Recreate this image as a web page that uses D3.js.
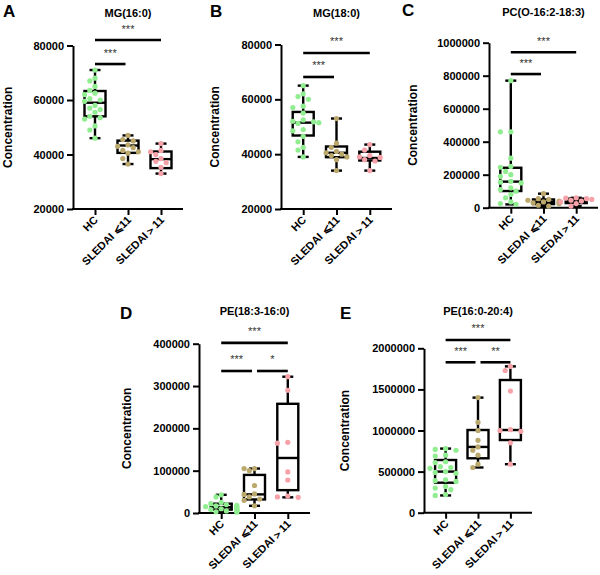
<!DOCTYPE html>
<html>
<head>
<meta charset="utf-8">
<script src="https://cdn.jsdelivr.net/npm/d3@7"></script>
<style>
  html, body { margin: 0; padding: 0; background: #fff; }
  svg { display: block; }
  text { font-family: Arial, "Liberation Sans", sans-serif; }
</style>
</head>
<body>
<svg id="chart" width="600" height="575"></svg>
<script>
// ---------------- DATA ----------------
const categories = ["HC", "SLEDAI ⩽11", "SLEDAI＞11"];
const titles = ["MG(16:0)", "MG(18:0)", "PC(O-16:2-18:3)", "PE(18:3-16:0)", "PE(16:0-20:4)"];
const panelLetters = ["A", "B", "C", "D", "E"];
const yLabel = "Concentration";

// y-axis ticks
const ticksA = [20000, 40000, 60000, 80000];
const ticksB = [20000, 40000, 60000, 80000];
const ticksC = [0, 200000, 400000, 600000, 800000, 1000000];
const ticksD = [0, 100000, 200000, 300000, 400000];
const ticksE = [0, 500000, 1000000, 1500000, 2000000];

// individual samples: HC, SLEDAI<=11, SLEDAI>11
const mg160HC = [71000, 68000, 67000, 65000, 63500, 62500, 62000, 60500, 60000, 59500, 58000, 57000, 56500, 55500, 54000, 53500, 53000, 50500, 49000, 46000];
const mg160Low = [47000, 45500, 45000, 43500, 43000, 42500, 41500, 41000, 40500, 38500, 36500];
const mg160High = [44000, 41500, 41000, 40000, 38500, 37500, 37000, 35300, 33000];

const mg180HC = [65000, 62000, 61000, 60000, 57500, 57000, 55000, 52500, 52000, 51800, 51500, 51200, 49000, 48500, 46500, 44500, 42500, 41500, 39000];
const mg180Low = [53000, 44000, 42500, 41000, 40500, 40000, 39500, 39000, 38000, 34000];
const mg180High = [43500, 41500, 39500, 39000, 38800, 38000, 37500, 34000];

const pcHC = [770000, 460000, 460000, 300000, 250000, 245000, 220000, 200000, 190000, 160000, 155000, 150000, 120000, 110000, 100000, 80000, 60000, 35000, 25000, 20000];
const pcLow = [85000, 55000, 50000, 45000, 40000, 35000, 30000, 28000, 25000, 15000, 10000];
const pcHigh = [60000, 58000, 55000, 50000, 45000, 40000, 35000, 25000, 10000];

const pe1816HC = [43000, 38000, 25000, 22000, 20000, 18000, 17000, 15000, 14000, 12000, 10000, 9000, 8000, 7000, 6000, 5000, 4000, 3000, 2000];
const pe1816Low = [105000, 105000, 100000, 65000, 45000, 44000, 38000, 33000, 30000, 17000];
const pe1816High = [322000, 290000, 167000, 165000, 97000, 78000, 40000, 38000, 37000];

const pe1620HC = [780000, 770000, 760000, 700000, 690000, 620000, 610000, 560000, 550000, 540000, 500000, 490000, 480000, 400000, 390000, 380000, 320000, 300000, 280000, 220000, 210000];
const pe1620Low = [1400000, 1100000, 1000000, 880000, 800000, 760000, 700000, 590000, 550000];
const pe1620High = [1780000, 1730000, 1480000, 1010000, 1000000, 990000, 850000, 590000];

// box stats per group: [min, q1, median, q3, max]
const mg160Box = [[46000, 54000, 59000, 63300, 71000], [36500, 40600, 43300, 45100, 47000], [33000, 35000, 38300, 41100, 44000]];
const mg180Box = [[39000, 46800, 51500, 55400, 65000], [34000, 38900, 40500, 42800, 53000], [34000, 37700, 38600, 40900, 43500]];
const pcBox = [[20000, 101000, 158000, 242000, 770000], [10000, 22000, 35000, 50000, 85000], [10000, 28000, 40000, 55000, 60000]];
const pe1816Box = [[2000, 8000, 14000, 22000, 43000], [17000, 32000, 44000, 90000, 105000], [37000, 54000, 130000, 258000, 322000]];
const pe1620Box = [[210000, 365000, 500000, 641000, 780000], [550000, 662000, 800000, 1006000, 1400000], [590000, 884000, 1006000, 1614000, 1780000]];

// significance brackets: [fromIndex, toIndex, label, level (data units)]
const mg160Sig = [[0, 2, "***", 82000], [0, 1, "***", 73200]];
const mg180Sig = [[0, 2, "***", 76900], [0, 1, "***", 68150]];
const pcSig = [[0, 2, "***", 942000], [0, 1, "***", 810000]];
const pe1816Sig = [[0, 2, "***", 402000], [0, 1, "***", 335500], [1, 2, "*", 335500]];
const pe1620Sig = [[0, 2, "***", 2101000], [0, 1, "***", 1830000], [1, 2, "**", 1830000]];

// ---------------- STYLE / LAYOUT ----------------
const groupColors = ["#90ee90", "#bba86c", "#f7a1a8"];
const layout = [
  { axisX: 73,  xEnd: 183, yTopPx: 45.5,  yBotPx: 209,   letterX: 3,   letterY: 17,  labelX: 7.5 },
  { axisX: 281, xEnd: 392, yTopPx: 44.5,  yBotPx: 209,   letterX: 210, letterY: 17,  labelX: 215 },
  { axisX: 489, xEnd: 598, yTopPx: 42.7,  yBotPx: 207.7, letterX: 402, letterY: 16,  labelX: 412.5 },
  { axisX: 199, xEnd: 310, yTopPx: 343.7, yBotPx: 513,   letterX: 120, letterY: 319, labelX: 127 },
  { axisX: 424, xEnd: 532, yTopPx: 348.3, yBotPx: 512.7, letterX: 340, letterY: 319, labelX: 345 }
];
const titleY = [17, 17, 16, 315, 315];

const panels = [
  { ticks: ticksA, groups: [mg160HC, mg160Low, mg160High], box: mg160Box, sig: mg160Sig },
  { ticks: ticksB, groups: [mg180HC, mg180Low, mg180High], box: mg180Box, sig: mg180Sig },
  { ticks: ticksC, groups: [pcHC, pcLow, pcHigh], box: pcBox, sig: pcSig },
  { ticks: ticksD, groups: [pe1816HC, pe1816Low, pe1816High], box: pe1816Box, sig: pe1816Sig },
  { ticks: ticksE, groups: [pe1620HC, pe1620Low, pe1620High], box: pe1620Box, sig: pe1620Sig }
];

const svg = d3.select("#chart");
const boxW = 21, capW = 11, ptR = 2.6, lw = 2.4;

// simple deterministic beeswarm offsets
function swarm(values, yScale, cx) {
  const placed = [];
  const sorted = values.map((v, i) => ({ v, i })).sort((a, b) => b.v - a.v);
  const step = 5.2, minD = 5.6;
  const offs = [0, -1, 1, -2, 2, -3, 3];
  sorted.forEach(d => {
    const y = yScale(d.v);
    let chosen = cx;
    for (const o of offs) {
      const xx = cx + o * step;
      chosen = xx;
      if (placed.every(p => Math.hypot(p.x - xx, p.y - y) >= minD)) break;
    }
    placed.push({ x: chosen, y, v: d.v });
  });
  return placed;
}

panels.forEach((p, k) => {
  const L = layout[k];
  const g = svg.append("g");
  const x = d3.scalePoint().domain(categories).range([L.axisX, L.xEnd]).padding(0.667);
  const y = d3.scaleLinear().domain([p.ticks[0], p.ticks[p.ticks.length - 1]]).range([L.yBotPx, L.yTopPx]);

  // y axis
  const ya = g.append("g").attr("transform", `translate(${L.axisX},0)`)
    .call(d3.axisLeft(y).tickValues(p.ticks).tickSize(6).tickSizeOuter(0).tickPadding(3).tickFormat(d3.format("d")));
  ya.selectAll("path, line").attr("stroke", "#000").attr("stroke-width", 2);
  ya.selectAll("text").attr("font-size", 11).attr("font-weight", "bold").attr("fill", "#000");

  // x axis
  const xa = g.append("g").attr("transform", `translate(0,${L.yBotPx})`)
    .call(d3.axisBottom(x).tickSize(6).tickSizeOuter(0).tickFormat(""));
  xa.selectAll("path, line").attr("stroke", "#000").attr("stroke-width", 2);
  xa.select(".domain").attr("d", `M${L.axisX - 1},0H${L.xEnd}`);

  // x labels rotated
  g.selectAll(".xl").data(categories).enter().append("text")
    .attr("transform", d => `translate(${x(d) + 1},${L.yBotPx + 9}) rotate(-45)`)
    .attr("text-anchor", "end").attr("dy", "0.35em")
    .attr("font-size", 11).attr("font-weight", "bold").attr("fill", "#000")
    .text(d => d);

  // y label
  g.append("text")
    .attr("transform", `translate(${L.labelX + 4},${(L.yTopPx + L.yBotPx) / 2}) rotate(-90)`)
    .attr("text-anchor", "middle").attr("font-size", 12).attr("font-weight", "bold")
    .text(yLabel);

  // title
  g.append("text").attr("x", (L.axisX + L.xEnd) / 2).attr("y", titleY[k])
    .attr("text-anchor", "middle").attr("font-size", 11).attr("font-weight", "bold")
    .text(titles[k]);

  // panel letter
  g.append("text").attr("x", L.letterX).attr("y", L.letterY)
    .attr("font-size", 17).attr("font-weight", "bold").text(panelLetters[k]);

  // boxes
  p.box.forEach((b, gi) => {
    const cx = x(categories[gi]);
    const [mn, q1, md, q3, mx] = b;
    const bg = g.append("g").attr("stroke", "#000").attr("stroke-width", lw).attr("fill", "none");
    bg.append("line").attr("x1", cx).attr("x2", cx).attr("y1", y(mx)).attr("y2", y(q3));
    bg.append("line").attr("x1", cx).attr("x2", cx).attr("y1", y(q1)).attr("y2", y(mn));
    bg.append("line").attr("x1", cx - capW / 2).attr("x2", cx + capW / 2).attr("y1", y(mx)).attr("y2", y(mx));
    bg.append("line").attr("x1", cx - capW / 2).attr("x2", cx + capW / 2).attr("y1", y(mn)).attr("y2", y(mn));
    bg.append("rect").attr("x", cx - boxW / 2).attr("width", boxW)
      .attr("y", y(q3)).attr("height", Math.max(0, y(q1) - y(q3)));
    bg.append("line").attr("x1", cx - boxW / 2).attr("x2", cx + boxW / 2).attr("y1", y(md)).attr("y2", y(md));
  });

  // points
  p.groups.forEach((vals, gi) => {
    const cx = x(categories[gi]);
    const pts = swarm(vals, y, cx);
    g.selectAll(null).data(pts).enter().append("circle")
      .attr("cx", d => d.x).attr("cy", d => d.y).attr("r", ptR)
      .attr("fill", groupColors[gi]);
  });

  // significance
  p.sig.forEach(([a, b, lab, lev]) => {
    const mid = 1;
    const x1 = x(categories[a]) + (a === mid ? 2.5 : 0);
    const x2 = x(categories[b]) - (b === mid ? 2.5 : 0);
    const yy = y(lev);
    g.append("line").attr("x1", x1).attr("x2", x2).attr("y1", yy).attr("y2", yy)
      .attr("stroke", "#000").attr("stroke-width", 2.6);
    g.append("text").attr("x", (x1 + x2) / 2).attr("y", yy - 7.5)
      .attr("text-anchor", "middle").attr("font-size", 11).attr("fill", "#333")
      .text(lab);
  });
});
</script>
</body>
</html>
